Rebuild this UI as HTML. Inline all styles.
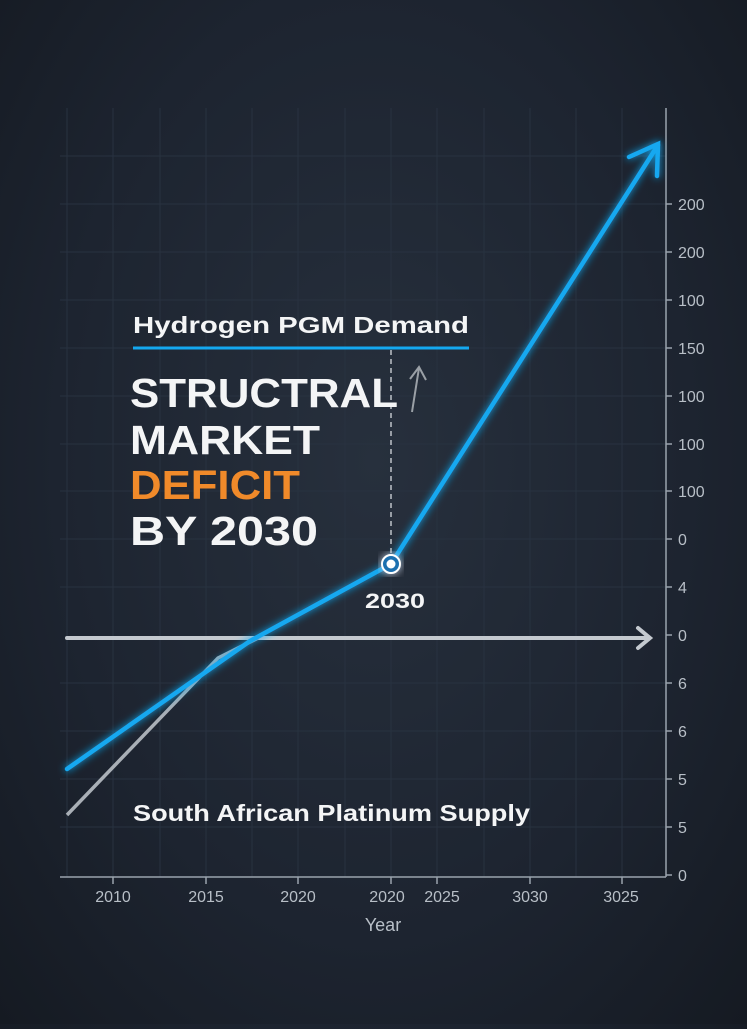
<!DOCTYPE html>
<html><head><style>
html,body{margin:0;padding:0;}
body{width:747px;height:1024px;overflow:hidden;background:radial-gradient(ellipse at 50% 45%,#27303d 0%,#1d2430 60%,#151a22 100%);font-family:"Liberation Sans",sans-serif;}
</style></head><body>
<svg width="747" height="1024" viewBox="0 0 747 1024" xmlns="http://www.w3.org/2000/svg">
<defs>
<filter id="glow" x="-20%" y="-20%" width="140%" height="140%"><feGaussianBlur stdDeviation="4" result="b"/><feMerge><feMergeNode in="b"/><feMergeNode in="SourceGraphic"/></feMerge></filter>
</defs>
<g stroke="#283240" stroke-width="1">
<line x1="67" y1="108" x2="67" y2="877"/><line x1="113" y1="108" x2="113" y2="877"/><line x1="160" y1="108" x2="160" y2="877"/><line x1="206" y1="108" x2="206" y2="877"/><line x1="252" y1="108" x2="252" y2="877"/><line x1="298" y1="108" x2="298" y2="877"/><line x1="345" y1="108" x2="345" y2="877"/><line x1="391" y1="108" x2="391" y2="877"/><line x1="437" y1="108" x2="437" y2="877"/><line x1="484" y1="108" x2="484" y2="877"/><line x1="530" y1="108" x2="530" y2="877"/><line x1="576" y1="108" x2="576" y2="877"/><line x1="622" y1="108" x2="622" y2="877"/>
<line x1="60" y1="156" x2="666" y2="156"/><line x1="60" y1="204" x2="666" y2="204"/><line x1="60" y1="252" x2="666" y2="252"/><line x1="60" y1="300" x2="666" y2="300"/><line x1="60" y1="348" x2="666" y2="348"/><line x1="60" y1="396" x2="666" y2="396"/><line x1="60" y1="444" x2="666" y2="444"/><line x1="60" y1="491" x2="666" y2="491"/><line x1="60" y1="539" x2="666" y2="539"/><line x1="60" y1="587" x2="666" y2="587"/><line x1="60" y1="683" x2="666" y2="683"/><line x1="60" y1="731" x2="666" y2="731"/><line x1="60" y1="779" x2="666" y2="779"/><line x1="60" y1="827" x2="666" y2="827"/>
</g>
<g stroke="#9aa3ad" stroke-width="1.5" fill="none">
<line x1="666" y1="108" x2="666" y2="877"/>
<line x1="60" y1="877" x2="666" y2="877"/>
</g>
<g stroke="#9aa3ad" stroke-width="1.5">
<line x1="666" y1="204" x2="672" y2="204"/><line x1="666" y1="252" x2="672" y2="252"/><line x1="666" y1="300" x2="672" y2="300"/><line x1="666" y1="348" x2="672" y2="348"/><line x1="666" y1="396" x2="672" y2="396"/><line x1="666" y1="444" x2="672" y2="444"/><line x1="666" y1="491" x2="672" y2="491"/><line x1="666" y1="539" x2="672" y2="539"/><line x1="666" y1="587" x2="672" y2="587"/><line x1="666" y1="635" x2="672" y2="635"/><line x1="666" y1="683" x2="672" y2="683"/><line x1="666" y1="731" x2="672" y2="731"/><line x1="666" y1="779" x2="672" y2="779"/><line x1="666" y1="827" x2="672" y2="827"/><line x1="666" y1="875" x2="672" y2="875"/>
<line x1="113" y1="877" x2="113" y2="884"/><line x1="206" y1="877" x2="206" y2="884"/><line x1="298" y1="877" x2="298" y2="884"/><line x1="391" y1="877" x2="391" y2="884"/><line x1="437" y1="877" x2="437" y2="884"/><line x1="530" y1="877" x2="530" y2="884"/><line x1="622" y1="877" x2="622" y2="884"/>
</g>
<g fill="#b8bfc7" font-size="16">
<text x="678" y="210">200</text><text x="678" y="258">200</text><text x="678" y="306">100</text><text x="678" y="354">150</text><text x="678" y="402">100</text><text x="678" y="450">100</text><text x="678" y="497">100</text><text x="678" y="545">0</text><text x="678" y="593">4</text><text x="678" y="641">0</text><text x="678" y="689">6</text><text x="678" y="737">6</text><text x="678" y="785">5</text><text x="678" y="833">5</text><text x="678" y="881">0</text>
</g>
<g fill="#b8bfc7" font-size="16" text-anchor="middle">
<text x="113" y="902">2010</text><text x="206" y="902">2015</text><text x="298" y="902">2020</text><text x="387" y="902">2020</text><text x="442" y="902">2025</text><text x="530" y="902">3030</text><text x="621" y="902">3025</text>
<text x="383" y="931" font-size="18">Year</text>
</g>
<g stroke="#c4c9cf" stroke-width="4" fill="none" stroke-linecap="round">
<line x1="67" y1="638" x2="648" y2="638"/>
<polyline points="638,628 650,638 638,648"/>
</g>
<polyline points="67,815 218,658 258,638" stroke="#a9afb6" stroke-width="3.5" fill="none"/>
<g filter="url(#glow)" stroke="#14a8f0" stroke-width="4.5" fill="none" stroke-linecap="round">
<polyline points="67,769 250,641 391,564 658,145"/>
<polyline points="629,157 658,144 657,176"/>
</g>
<line x1="391" y1="350" x2="391" y2="556" stroke="#d6dadf" stroke-width="1.3" stroke-dasharray="5,4"/>
<line x1="412" y1="412" x2="419" y2="368" stroke="#9aa0a6" stroke-width="2"/>
<polyline points="410,379 419,367 426,380" stroke="#9aa0a6" stroke-width="2" fill="none"/>
<circle cx="391" cy="564" r="9" fill="#1a6fb0" stroke="#fff" stroke-width="2" filter="url(#glow)"/>
<circle cx="391" cy="564" r="4.5" fill="#fff"/>
<line x1="133" y1="348" x2="469" y2="348" stroke="#14a8f0" stroke-width="3"/>
<g font-weight="bold" fill="#f4f5f6" lengthAdjust="spacingAndGlyphs">
<text x="133" y="333" font-size="23" textLength="336" lengthAdjust="spacingAndGlyphs">Hydrogen PGM Demand</text>
<text x="130" y="407" font-size="41" textLength="268" lengthAdjust="spacingAndGlyphs">STRUCTRAL</text>
<text x="130" y="454" font-size="41" textLength="190" lengthAdjust="spacingAndGlyphs">MARKET</text>
<text x="130" y="499" font-size="41" fill="#f08a2a" textLength="170" lengthAdjust="spacingAndGlyphs">DEFICIT</text>
<text x="130" y="545" font-size="41" textLength="188" lengthAdjust="spacingAndGlyphs">BY 2030</text>
<text x="365" y="608" font-size="21" textLength="60" lengthAdjust="spacingAndGlyphs">2030</text>
<text x="133" y="821" font-size="23" textLength="397" lengthAdjust="spacingAndGlyphs">South African Platinum Supply</text>
</g>
</svg>
</body></html>
